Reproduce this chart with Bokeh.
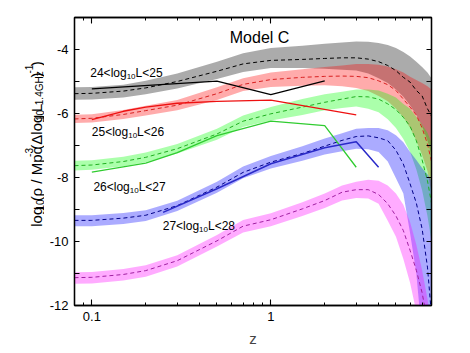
import math
from bokeh.plotting import figure
from bokeh.layouts import row
from bokeh.models import FixedTicker, LogAxis, LinearAxis, Label, CustomJSTickFormatter
from bokeh.embed import file_html
from bokeh.resources import INLINE

# ---------------- data ----------------
z = [0.08, 0.1, 0.15, 0.2, 0.3, 0.5, 0.7, 1.0, 1.5, 2.0, 2.5, 3.0, 3.5, 4.0, 4.5, 5.0, 5.5, 6.0, 6.5, 7.0, 7.5, 7.9]

grey_mid = [-5.38, -5.37, -5.30, -5.20, -5.00, -4.68, -4.45, -4.34, -4.31, -4.28, -4.26, -4.26, -4.30, -4.38, -4.50, -4.66, -4.87, -5.02, -5.28, -5.45, -5.85, -6.08]
grey_hi  = [-5.18, -5.17, -5.10, -4.98, -4.75, -4.38, -4.12, -3.95, -3.88, -3.82, -3.78, -3.75, -3.76, -3.80, -3.86, -3.95, -4.08, -4.22, -4.38, -4.55, -4.72, -4.90]
grey_lo  = [-5.57, -5.56, -5.50, -5.40, -5.22, -4.92, -4.70, -4.58, -4.58, -4.60, -4.63, -4.66, -4.75, -4.90, -5.05, -5.25, -5.48, -5.75, -6.05, -6.40, -6.85, -7.30]

red_mid = [-6.17, -6.15, -6.03, -5.91, -5.74, -5.38, -5.09, -4.94, -4.87, -4.84, -4.83, -4.84, -4.88, -4.98, -5.10, -5.28, -5.55, -5.80, -6.05, -6.45, -6.95, -7.50]
red_hi  = [-6.04, -6.02, -5.89, -5.76, -5.58, -5.18, -4.90, -4.72, -4.62, -4.55, -4.50, -4.45, -4.45, -4.48, -4.53, -4.62, -4.72, -4.85, -4.95, -5.05, -5.15, -5.25]
red_lo  = [-6.30, -6.28, -6.17, -6.06, -5.90, -5.58, -5.30, -5.17, -5.13, -5.12, -5.15, -5.20, -5.30, -5.45, -5.62, -5.85, -6.12, -6.45, -6.85, -7.30, -7.80, -8.50]

green_mid = [-7.63, -7.61, -7.50, -7.37, -7.10, -6.64, -6.24, -6.01, -5.80, -5.65, -5.55, -5.47, -5.48, -5.55, -5.70, -5.88, -6.12, -6.40, -6.85, -7.45, -8.10, -8.80]
green_hi  = [-7.48, -7.46, -7.35, -7.22, -6.95, -6.48, -6.06, -5.80, -5.55, -5.40, -5.32, -5.25, -5.25, -5.28, -5.38, -5.50, -5.70, -5.85, -6.10, -6.35, -6.60, -6.90]
green_lo  = [-7.78, -7.76, -7.65, -7.52, -7.25, -6.82, -6.42, -6.22, -6.05, -5.90, -5.83, -5.78, -5.85, -5.96, -6.18, -6.45, -6.80, -7.20, -7.75, -8.40, -9.20, -10.0]

blue_mid = [-9.34, -9.34, -9.27, -9.18, -8.88, -8.30, -7.84, -7.52, -7.25, -7.02, -6.84, -6.72, -6.70, -6.76, -6.85, -7.15, -7.58, -8.20, -8.80, -9.60, -10.8, -12.3]
blue_hi  = [-9.18, -9.18, -9.11, -9.02, -8.73, -8.13, -7.66, -7.33, -7.02, -6.78, -6.62, -6.48, -6.45, -6.45, -6.52, -6.68, -6.90, -7.20, -7.45, -7.70, -7.90, -8.10]
blue_lo  = [-9.52, -9.52, -9.45, -9.36, -9.05, -8.48, -8.02, -7.72, -7.48, -7.28, -7.18, -7.10, -7.12, -7.20, -7.50, -8.02, -8.50, -9.75, -11.0, -13.0, -14.0, -15.0]

mag_mid = [-11.13, -11.12, -11.03, -10.91, -10.60, -9.98, -9.52, -9.32, -8.98, -8.72, -8.46, -8.38, -8.38, -8.53, -8.82, -9.20, -9.66, -10.28, -10.90, -11.60, -12.5, -13.5]
mag_hi  = [-10.96, -10.95, -10.86, -10.74, -10.43, -9.80, -9.33, -9.12, -8.77, -8.50, -8.25, -8.13, -8.07, -8.10, -8.25, -8.50, -8.85, -9.40, -10.10, -10.90, -11.8, -12.6]
mag_lo  = [-11.32, -11.31, -11.22, -11.10, -10.78, -10.16, -9.72, -9.52, -9.20, -8.95, -8.72, -8.64, -8.66, -8.82, -9.35, -9.85, -10.55, -11.30, -12.20, -13.0, -14.0, -15.0]

# observed (solid) lines
black_z = [0.1, 0.5, 1.0, 2.0]
black_v = [-5.23, -4.99, -5.41, -4.98]
redobs_z = [0.1, 0.15, 0.2, 0.3, 0.5, 1.0, 3.0]
redobs_v = [-6.19, -5.93, -5.80, -5.68, -5.62, -5.58, -6.04]
greenobs_z = [0.1, 0.2, 0.3, 0.5, 1.0, 2.0, 3.0]
greenobs_v = [-7.83, -7.55, -7.22, -6.69, -6.24, -6.38, -7.68]
blueobs_z = [0.25, 0.5, 1.0, 2.0, 3.0, 4.0]
blueobs_v = [-9.09, -8.35, -7.57, -7.07, -6.88, -7.68]

bin_labels = [("24<log", "10", "L<25"), ("25<log", "10", "L<26"),
              ("26<log", "10", "L<27"), ("27<log", "10", "L<28")]
bin_label_z = [0.098, 0.1, 0.102, 0.249]
bin_label_v = [-4.72, -6.59, -8.31, -9.53]

x_major = [0.1, 1.0]
x_minor = [0.08, 0.09, 0.2, 0.3, 0.4, 0.5, 0.6, 0.7, 0.8, 0.9, 2, 3, 4, 5, 6, 7]
y_major = [-12, -10, -8, -6, -4]
y_minor = [-11, -9, -7, -5, -3]

FONT = "Liberation Sans"

LEFT_W = 44
p = figure(width=470 - LEFT_W, height=353, x_axis_type="log", x_range=(0.08, 7.9), y_range=(-12, -3),
           output_backend="svg", toolbar_location=None,
           min_border_left=74 - LEFT_W, min_border_right=39, min_border_top=17, min_border_bottom=48)
p.xgrid.visible = False
p.ygrid.visible = False
p.outline_line_color = "black"
p.outline_line_width = 1.3
p.background_fill_color = "white"
p.border_fill_color = "white"

bands = [
    (grey_lo, grey_hi, grey_mid, "black", "black"),
    (red_lo, red_hi, red_mid, "#ff0000", "#d82020"),
    (green_lo, green_hi, green_mid, "#00ff00", "#20b020"),
    (blue_lo, blue_hi, blue_mid, "#0000ff", "#000088"),
    (mag_lo, mag_hi, mag_mid, "#ff00ff", "#a020a0"),
]
for lo, hi, mid, fc, lc in bands:
    p.varea(x=z, y1=lo, y2=hi, fill_color=fc, fill_alpha=0.33)
for lo, hi, mid, fc, lc in bands:
    p.line(z, mid, line_color=lc, line_width=1.0, line_dash="4 3")

p.line(black_z, black_v, line_color="black", line_width=1.3)
p.line(redobs_z, redobs_v, line_color="#ee1010", line_width=1.3)
p.line(greenobs_z, greenobs_v, line_color="#30cc30", line_width=1.3)
p.line(blueobs_z, blueobs_v, line_color="#2a2ac8", line_width=1.5)

# axes
xt = FixedTicker(ticks=x_major, minor_ticks=x_minor)
yt = FixedTicker(ticks=y_major, minor_ticks=y_minor)

def style(ax, labels=True):
    ax.axis_line_color = "black"
    ax.axis_line_width = 1.3
    ax.major_tick_in = 6
    ax.major_tick_out = 0
    ax.minor_tick_in = 3
    ax.minor_tick_out = 0
    ax.major_tick_line_width = 1.1
    ax.minor_tick_line_width = 1.0
    ax.major_label_text_font = FONT
    ax.major_label_text_font_size = "13px"
    ax.major_label_text_color = "black"
    if not labels:
        ax.formatter = CustomJSTickFormatter(code="return ''")

xa = p.xaxis[0]
xa.ticker = xt
style(xa)
xa.major_label_overrides = {0.1: "0.1", 1.0: "1"}
xa.major_label_standoff = 6
xa.axis_label = "z"
xa.axis_label_text_font = FONT
xa.axis_label_text_font_size = "15px"
xa.axis_label_text_font_style = "normal"
xa.axis_label_standoff = 6

ya = p.yaxis[0]
ya.ticker = yt
style(ya)
ya.minor_tick_in = 5
ya.major_tick_in = 5
ya.major_label_overrides = {v: str(v) for v in y_major}
ya.major_label_standoff = 6

top = LogAxis(ticker=xt)
style(top, labels=False)
p.add_layout(top, "above")
right = LinearAxis(ticker=yt)
style(right, labels=False)
right.minor_tick_in = 5
right.major_tick_in = 5
p.add_layout(right, "right")

p.add_layout(Label(x=0.865, y=-3.62, text="Model C", text_align="center", text_baseline="alphabetic",
                   text_font=FONT, text_font_size="16px", text_color="black"))

W = {'l': 222, 'o': 556, 'g': 556, '0': 556, '1': 556, '2': 556, '3': 556, '4': 556, '5': 556,
     '6': 556, '7': 556, '8': 556, '(': 333, ')': 333, 'ρ': 578, ' ': 278, '/': 278, 'M': 833,
     'p': 556, 'c': 500, '-': 333, 'Δ': 668, 'L': 556, '.': 278, 'G': 778, 'H': 722, 'z': 500, '<': 584}

def tw(s, size):
    return sum(W.get(ch, 556) for ch in s) * size / 1000.0

for (a, b, c), zx, vy in zip(bin_labels, bin_label_z, bin_label_v):
    off = 0.0
    for txt, size, dy in ((a, 12, 0), (b, 8.0, -3.5), (c, 12, 0)):
        p.add_layout(Label(x=zx, y=vy, x_offset=off, y_offset=dy, text=txt, text_font=FONT,
                           text_font_size=f"{size}px", text_align="left", text_baseline="alphabetic",
                           text_color="black"))
        off += tw(txt, size)

# ---- narrow figure holding the rotated y-axis title ----
lp = figure(width=LEFT_W, height=353, x_range=(0, LEFT_W), y_range=(0, 353),
            output_backend="svg", toolbar_location=None,
            x_axis_location=None, y_axis_location=None,
            min_border_left=0, min_border_right=0, min_border_top=0, min_border_bottom=0)
lp.xgrid.visible = False
lp.ygrid.visible = False
lp.outline_line_color = None
lp.background_fill_color = "white"
lp.border_fill_color = "white"

ylabel_parts = [("log", 15, 0), ("10", 10, 3.5), ("(ρ / Mpc", 15, 0), ("-3", 10, -7),
                ("(Δlog", 15, 0), ("10", 10, 3.5), ("L", 15, 0), ("1.4GHz", 10, 3.5),
                (")", 15, 0), ("-1", 10, -7), (")", 15, 0)]
ypos = 353 - 256.5
for txt, size, dx in ylabel_parts:
    lp.add_layout(Label(x=35.5 + dx, y=ypos, angle=math.pi / 2,
                        text=txt, text_font=FONT, text_font_size=f"{size}px",
                        text_align="left", text_baseline="alphabetic", text_color="black"))
    ypos += tw(txt, size)

layout = row(lp, p)
open("out.html", "w").write(file_html(layout, INLINE))
